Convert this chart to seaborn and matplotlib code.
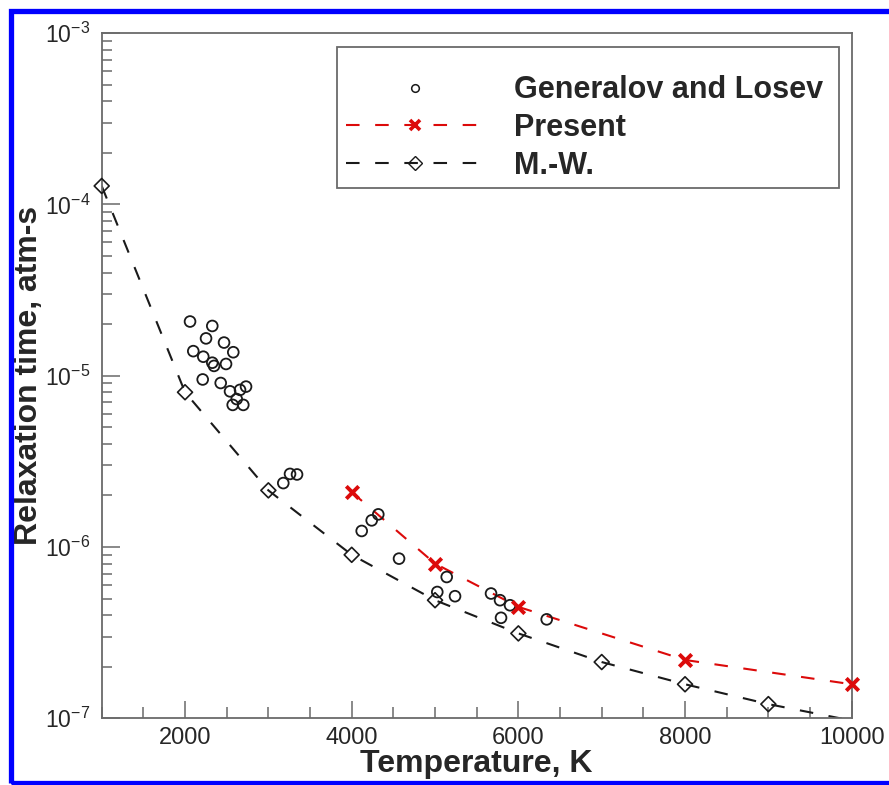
import numpy as np
import pandas as pd
import matplotlib
matplotlib.use("Agg")
import matplotlib.pyplot as plt
import seaborn as sns
from matplotlib.lines import Line2D
from matplotlib.patches import Rectangle
from matplotlib.ticker import FixedLocator, MultipleLocator, LogLocator, NullFormatter

# ---------------- data ----------------
gl_T = [2060, 2327, 2252, 2468, 2579, 2099, 2219, 2327, 2348, 2492, 2212, 2428,
        2540, 2660, 2732, 2620, 2572, 2699,
        3179, 3260, 3344, 4120, 4240, 4319, 4568, 5140, 5027, 5240, 5672, 5780,
        5900, 5792, 6340]
gl_tau = [2.07e-5, 1.95e-5, 1.65e-5, 1.56e-5, 1.37e-5, 1.39e-5, 1.29e-5, 1.19e-5,
          1.14e-5, 1.17e-5, 9.5e-6, 9.06e-6, 8.1e-6, 8.26e-6, 8.63e-6, 7.3e-6,
          6.75e-6, 6.75e-6,
          2.36e-6, 2.67e-6, 2.65e-6, 1.24e-6, 1.43e-6, 1.55e-6, 8.55e-7, 6.68e-7,
          5.46e-7, 5.16e-7, 5.35e-7, 4.89e-7, 4.57e-7, 3.86e-7, 3.78e-7]

present_T = [4000, 5000, 6000, 8000, 10000]
present_tau = [2.09e-6, 8.0e-7, 4.47e-7, 2.19e-7, 1.58e-7]

mw_T = [1000, 2000, 3000, 4000, 5000, 6000, 7000, 8000, 9000, 10000]
mw_tau = [1.28e-4, 8.0e-6, 2.14e-6, 9.0e-7, 4.89e-7, 3.13e-7, 2.13e-7, 1.58e-7,
          1.21e-7, 9.7e-8]

labels = ["Generalov and Losev", "Present", "M.-W."]
x_ticks = [2000, 4000, 6000, 8000, 10000]
y_ticks = [1e-7, 1e-6, 1e-5, 1e-4, 1e-3]
y_ticklabels = [r"$\mathregular{10^{-7}}$", r"$\mathregular{10^{-6}}$",
                r"$\mathregular{10^{-5}}$", r"$\mathregular{10^{-4}}$",
                r"$\mathregular{10^{-3}}$"]

# ---------------- style ----------------
sns.set_theme(style="white")
plt.rcParams["font.family"] = ["Liberation Sans", "DejaVu Sans"]
plt.rcParams["mathtext.fontset"] = "custom"
plt.rcParams["mathtext.rm"] = "Liberation Sans"
plt.rcParams["mathtext.it"] = "Liberation Sans:italic"
plt.rcParams["mathtext.bf"] = "Liberation Sans:bold"

RED = "#dc0a0a"
BLACK = "#1a1a1a"
SPINE = "#6a6a6a"
DASH = (0, (6.5, 7.5))

W, H = 889, 785
fig = plt.figure(figsize=(W / 100, H / 100), dpi=100)
fig.patch.set_facecolor("white")

left, right, top, bottom = 101.7, 851.7, 33.0, 718.3
ax = fig.add_axes([left / W, 1 - bottom / H, (right - left) / W, (bottom - top) / H])
ax.set_facecolor("white")

gl_df = pd.DataFrame({"T": gl_T, "tau": gl_tau})
pr_df = pd.DataFrame({"T": present_T, "tau": present_tau})
mw_df = pd.DataFrame({"T": mw_T, "tau": mw_tau})

# M.-W. dashed line (clipped) + diamonds
sns.lineplot(data=mw_df, x="T", y="tau", ax=ax, estimator=None, sort=False,
             color=BLACK, linewidth=1.5, linestyle=DASH, zorder=2)
sns.scatterplot(data=mw_df.iloc[:9], x="T", y="tau", ax=ax, marker="D", s=58,
                facecolor="none", edgecolor=BLACK, linewidth=1.2, clip_on=False,
                zorder=3)

# Present
sns.lineplot(data=pr_df, x="T", y="tau", ax=ax, estimator=None, sort=False,
             color=RED, linewidth=1.5, linestyle=DASH, zorder=2)
sns.scatterplot(data=pr_df, x="T", y="tau", ax=ax, marker="x", s=80,
                color=RED, linewidth=2.8, clip_on=False, zorder=4)

# Generalov and Losev
sns.scatterplot(data=gl_df, x="T", y="tau", ax=ax, marker="o", s=60,
                facecolor="none", edgecolor=BLACK, linewidth=1.3, zorder=3)

ax.set_yscale("log")
ax.set_xlim(1000, 10000)
ax.set_ylim(1e-7, 1e-3)

ax.xaxis.set_major_locator(FixedLocator(x_ticks))
ax.xaxis.set_minor_locator(MultipleLocator(500))
ax.set_xticklabels([str(v) for v in x_ticks])
ax.yaxis.set_major_locator(FixedLocator(y_ticks))
ax.yaxis.set_minor_locator(LogLocator(base=10, subs=np.arange(2, 10)))
ax.yaxis.set_minor_formatter(NullFormatter())
ax.set_yticklabels(y_ticklabels)

ax.tick_params(axis="both", which="both", direction="in", color=SPINE,
               top=False, right=False, bottom=True, left=True)
ax.tick_params(axis="x", which="major", length=12, width=1.1, labelsize=17, pad=6)
ax.tick_params(axis="x", which="minor", length=8, width=1.1)
ax.tick_params(axis="y", which="major", length=13, width=1.1, labelsize=16.5, pad=8)
ax.tick_params(axis="y", which="minor", length=7, width=1.1)

for sp in ax.spines.values():
    sp.set_color(SPINE)
    sp.set_linewidth(1.3)
    sp.set_visible(True)

ax.set_xlabel("Temperature, K", fontsize=23, fontweight="bold", labelpad=0.5)
ax.set_ylabel("Relaxation time, atm-s", fontsize=23, fontweight="bold")
ax.yaxis.set_label_coords((44 - left) / (right - left), 0.5)

# legend frame drawn as a box, entries laid out inside it
def fx(px):
    return (px - left) / (right - left)

def fy(py):
    return (bottom - py) / (bottom - top)

frame = Rectangle((fx(337), fy(188)), fx(839) - fx(337), fy(47) - fy(188),
                  transform=ax.transAxes, facecolor="white", edgecolor=SPINE,
                  linewidth=1.3, zorder=5)
ax.add_patch(frame)

handles = [
    Line2D([], [], linestyle="none", marker="o", markersize=5.5,
           markerfacecolor="none", markeredgecolor=BLACK, markeredgewidth=1.1),
    Line2D([], [], color=RED, linewidth=1.5, linestyle=DASH, marker="x",
           markersize=7.5, markeredgewidth=2.6, markeredgecolor=RED),
    Line2D([], [], color=BLACK, linewidth=1.5, linestyle=DASH, marker="D",
           markersize=7, markerfacecolor="none", markeredgecolor=BLACK,
           markeredgewidth=1.0),
]
leg = ax.legend(handles, labels, loc="upper right",
                bbox_to_anchor=(fx(823), fy(75.5)),
                borderaxespad=0, borderpad=0, frameon=False,
                prop={"weight": "bold", "size": 22},
                handlelength=4.5, handletextpad=0.98, labelspacing=0.25)
leg.set_zorder(6)

# blue frame around the picture
fig.patches.append(Rectangle((10.5 / W, 2.5 / H), 1.2, 1 - 13 / H,
                             transform=fig.transFigure, fill=False,
                             edgecolor="#0000ff", linewidth=3.8, zorder=10))

fig.savefig("out.png", dpi=100, facecolor="white")
